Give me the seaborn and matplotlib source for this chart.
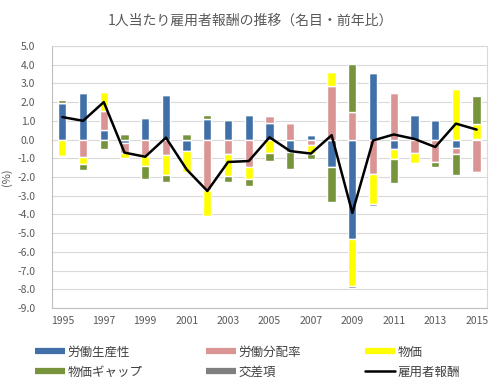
import numpy as np
import pandas as pd
import seaborn as sns
import matplotlib.pyplot as plt
from matplotlib.lines import Line2D

# 1人当たり雇用者報酬（名目・前年比）の要因分解, %
years = list(range(1995, 2016))
productivity = [1.95, 2.5, 0.53, -0.2, 1.15, 2.4, -0.6, 1.1, 1.05, 1.32, 0.88,
                -0.65, 0.25, -1.46, -5.3, 3.53, -0.5, 1.32, 1.05, -0.45, 0.05]
labor_share = [0.0, -0.95, 1.0, -0.5, -0.9, -0.83, 0.0, -2.7, -0.8, -1.45, 0.39,
               0.88, -0.28, 2.87, 1.45, -1.85, 2.47, -0.7, -1.2, -0.35, -1.75]
prices = [-0.9, -0.35, 1.03, -0.3, -0.5, -1.05, -1.15, -1.4, -1.15, -0.65, -0.7,
          0.0, -0.5, 0.75, -2.55, -1.6, -0.55, -0.55, 0.0, 2.7, 0.8]
price_gap = [0.17, -0.35, -0.5, 0.3, -0.7, -0.4, 0.3, 0.22, -0.3, -0.37, -0.45,
             -0.9, -0.25, -1.9, 2.57, 0.0, -1.25, -0.08, -0.27, -1.1, 1.48]
cross_term = [-0.05, 0.0, 0.05, 0.0, 0.0, 0.0, 0.0, -0.03, 0.0, 0.0, 0.0,
              0.0, 0.0, 0.0, -0.08, -0.08, 0.0, 0.0, 0.0, 0.0, -0.05]
compensation = [1.2, 1.0, 2.0, -0.7, -0.92, 0.1, -1.6, -2.75, -1.2, -1.15, 0.12,
                -0.62, -0.75, 0.23, -3.92, -0.05, 0.27, 0.03, -0.4, 0.85, 0.53]

labels = ["労働生産性", "労働分配率", "物価", "物価ギャップ", "交差項"]
colors = ["#4170A8", "#D99594", "#FFFF00", "#77933C", "#7F7F7F"]
series = [productivity, labor_share, prices, price_gap, cross_term]

sns.set_style("white")
plt.rcParams['font.family'] = ['Noto Sans CJK JP', 'DejaVu Sans']

fig = plt.figure(figsize=(5, 3.83), dpi=100)
ax = fig.add_axes([0.104, 0.196, 0.87, 0.684])

x = np.array(years)
pos = np.zeros(len(years))
neg = np.zeros(len(years))
for vals, c in zip(series, colors):
    v = np.array(vals)
    bottom = np.where(v >= 0, pos, neg)
    ax.bar(x, v, width=0.4, bottom=bottom, color=c, zorder=2)
    pos = pos + np.where(v >= 0, v, 0)
    neg = neg + np.where(v < 0, v, 0)

df = pd.DataFrame({"year": years, "comp": compensation})
sns.lineplot(data=df, x="year", y="comp", color="black", lw=1.8, ax=ax, zorder=3)

ax.set_xlim(1994.5, 2015.5)
ax.set_ylim(-9, 5)
ax.set_yticks(np.arange(-9, 5.1, 1))
ax.set_yticklabels([f"{v:.1f}" for v in np.arange(-9, 5.1, 1)])
ax.set_xticks(years[::2])
ax.tick_params(length=0, labelsize=7.5, colors="#595959")
ax.tick_params(axis="y", pad=12)
ax.tick_params(axis="x", pad=6)
ax.yaxis.grid(True, color="#D9D9D9", lw=0.8)
ax.set_axisbelow(True)
for s in ax.spines.values():
    s.set_color("#D9D9D9")
    s.set_linewidth(0.8)
ax.spines["left"].set_color("#BFBFBF")
ax.spines["bottom"].set_color("#BFBFBF")
ax.set_xlabel("")
ax.set_ylabel("(%)", fontsize=8, color="#595959", labelpad=4)

fig.suptitle("1人当たり雇用者報酬の推移（名目・前年比）", x=0.5, y=0.965,
             fontsize=10, color="#595959")

handles = [Line2D([], [], color=c, lw=4.5, solid_capstyle="butt") for c in colors]
handles.append(Line2D([], [], color="black", lw=1.8))
names = labels + ["雇用者報酬"]
order = [0, 3, 1, 4, 2, 5]
fig.legend([handles[i] for i in order], [names[i] for i in order], ncol=3,
           loc="upper left", bbox_to_anchor=(0.07, 0.097), frameon=False,
           fontsize=9, handlelength=2.4, handletextpad=0.2, columnspacing=5.1,
           labelspacing=0.55, borderpad=0, borderaxespad=0, labelcolor="#404040")

fig.savefig("out.png", dpi=100)
